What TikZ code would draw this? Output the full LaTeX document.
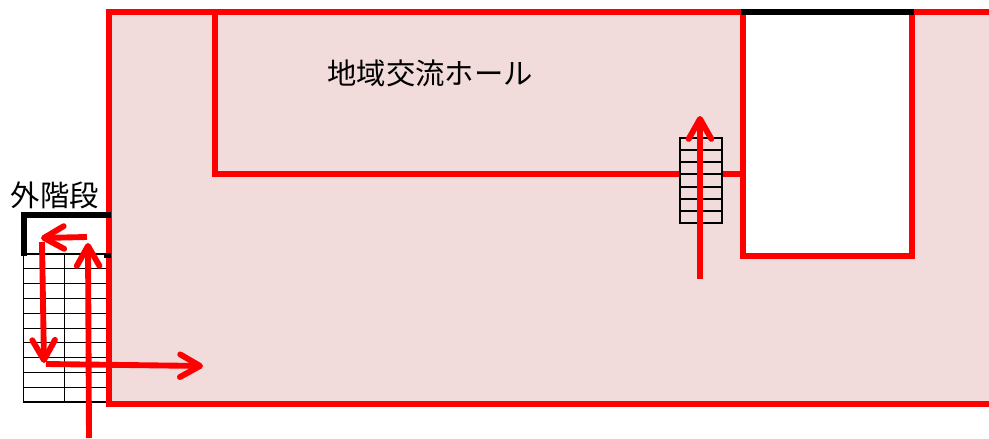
\documentclass[tikz,border=0pt]{standalone}
\usepackage{fontspec}
\newfontfamily\cjk{Noto Sans CJK JP}
\usetikzlibrary{arrows.meta}
\definecolor{roomfill}{RGB}{241,220,219}
\tikzset{
 px/.style={x=0.75pt,y=-0.75pt},
 red line/.style={draw=red,line width=3.9pt},
 blk/.style={draw=black,line width=4.2pt},
 thin ln/.style={draw=black,line width=0.6pt},
 stair ln/.style={draw=black,line width=1pt},
 arr/.style={draw=red,line width=4.4pt,-{Straight Barb[length=15pt,width=17pt,round]}},
 lbl/.style={inner sep=0pt,font=\cjk\fontsize{22pt}{24pt}\selectfont,text=black}
}
\begin{document}
\begin{tikzpicture}[px]
\useasboundingbox (0,0) rectangle (989,439);
\fill[white] (0,0) rectangle (989,439);
\fill[roomfill] (109,12) rectangle (989,404);
\fill[white] (743,12) rectangle (912,256);
% stairs left
\draw[thin ln] (23,402) -- (23,254) -- (106,254) -- (106,402) -- cycle;
\draw[thin ln] (64,254) -- (64,402);
\foreach \y in {268,283,298,313,328,342,357,372,387}{\draw[thin ln] (23,\y) -- (106,\y);}
\draw[stair ln] (23,254) -- (106,254);
\draw[stair ln] (23,402) -- (106,402);
% outline
\draw[red line] (989,12) -- (109,12) -- (109,404) -- (989,404);
\draw[red line] (215,12) -- (215,174) -- (680,174);
\draw[red line] (722,174) -- (743,174);
\draw[red line] (743,12) -- (743,256) -- (912,256) -- (912,12);
% stairs right
\draw[stair ln] (680,138) rectangle (722,223);
\draw[stair ln] (701,138) -- (701,223);
\foreach \y in {150,162,174,187,199,211}{\draw[stair ln] (680,\y) -- (722,\y);}
\draw[blk] (741,12) -- (914,12);
\draw[blk] (24,256) -- (24,215) -- (111,215);
\draw[blk] (104,255.5) -- (111,255.5);
\node[lbl] (hall) at (430,73) {地域交流ホール};
\node[lbl] (stairs) at (55,195) {外階段};
\coordinate (a0) at (89,438); \coordinate (a1) at (88,243);
\coordinate (b0) at (87,237); \coordinate (b1) at (41,238);
\coordinate (c0) at (42,242); \coordinate (c1) at (44,363);
\coordinate (d0) at (46,364); \coordinate (d1) at (203,366);
\coordinate (e0) at (700,279); \coordinate (e1) at (700,116);
\draw[arr] (a0) -- (a1);
\draw[arr] (b0) -- (b1);
\draw[arr] (c0) -- (c1);
\draw[arr] (d0) -- (d1);
\draw[arr] (e0) -- (e1);
\end{tikzpicture}
\end{document}
